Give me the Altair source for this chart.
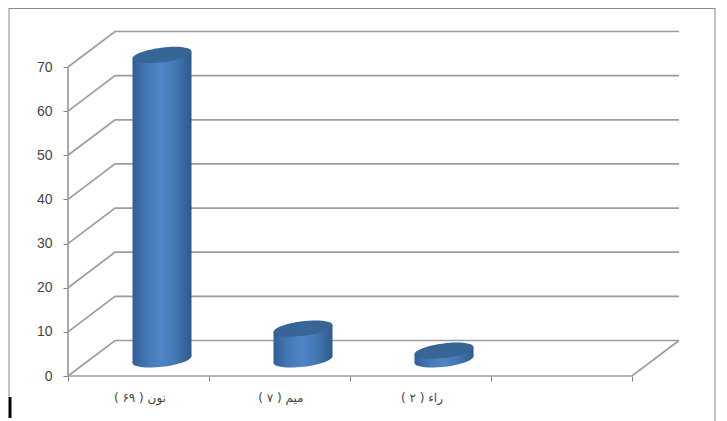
import altair as alt
import pandas as pd

categories = ["نون ( ۶۹ )", "میم ( ۷ )", "راء ( ۲ )"]
values = [69, 7, 2]
ticks = [0, 10, 20, 30, 40, 50, 60, 70]
cat_ticks = [0, 1, 2, 3, 4]

W, H = 611, 345
XMAX = W / 141
YMAX = H / 4.414
DX = 47 / 141       # depth offset in category units
DY = 35.5 / 4.414   # depth offset in value units
BASE = 16.5 / 4.414
HALF = 29.5 / 141
TILT = 3.5 / 4.414
GRID = "#9c9c9c"

x = alt.X("x:Q", scale=alt.Scale(domain=[0, XMAX], nice=False, zero=False), title=None,
          axis=alt.Axis(values=cat_ticks, labels=False, grid=False, domain=False, tickColor="#808080",
                        tickSize=5, tickWidth=1))
y = alt.Y("y:Q", scale=alt.Scale(domain=[0, YMAX], nice=False, zero=False), title=None,
          axis=alt.Axis(values=ticks, grid=False, domain=False, tickColor="#808080", tickSize=5, tickWidth=1,
                        labelFont="Liberation Sans", labelFontSize=14, labelColor="#444444", labelPadding=11))

# walls
rows = []
for t in ticks:
    rows += [dict(g=t, x=0, y=t), dict(g=t, x=DX, y=t + DY), dict(g=t, x=XMAX, y=t + DY)]
walls = alt.Chart(pd.DataFrame(rows)).mark_line(color=GRID, strokeWidth=1.7).encode(x=x, y=y, detail="g:N", order="x:Q")

frame_rows = [dict(x=0, y=70), dict(x=0, y=0), dict(x=4, y=0), dict(x=XMAX, y=DY)]
frame = alt.Chart(pd.DataFrame(frame_rows).assign(o=range(4))).mark_line(color=GRID, strokeWidth=1.7).encode(
    x=x, y=y, order="o:Q")

# cylinders
grad = alt.Gradient(gradient="linear", x1=0, x2=1, y1=0, y2=0, stops=[
    alt.GradientStop(color="#315f97", offset=0),
    alt.GradientStop(color="#477cba", offset=0.3),
    alt.GradientStop(color="#4e85c6", offset=0.5),
    alt.GradientStop(color="#4375b0", offset=0.75),
    alt.GradientStop(color="#2c5a8e", offset=1),
])
ELL = "M-1,0.12 A1,0.245,-7,1,1,1,-0.12 A1,0.245,-7,1,1,-1,0.12 Z"
body_rows, top_rows, bottom_rows = [], [], []
for i, v in enumerate(values):
    cx = i + 0.5 + 23.5 / 141
    body_rows += [dict(g=i, x=cx - HALF, y=BASE - TILT, y2=BASE + v - TILT),
                  dict(g=i, x=cx + HALF, y=BASE + TILT, y2=BASE + v + TILT)]
    top_rows.append(dict(x=cx, y=BASE + v))
    bottom_rows.append(dict(x=cx, y=BASE))
body = alt.Chart(pd.DataFrame(body_rows)).mark_area(fill=grad, opacity=1).encode(
    x=x, y=y, y2="y2:Q", detail="g:N")
bottoms = alt.Chart(pd.DataFrame(bottom_rows)).mark_point(
    shape=ELL, size=59 ** 2, filled=True, fill=grad, opacity=1, strokeWidth=0).encode(x=x, y=y)
tops = alt.Chart(pd.DataFrame(top_rows)).mark_point(
    shape=ELL, size=59 ** 2, filled=True, fill="#376596", opacity=1, strokeWidth=0).encode(x=x, y=y)

# labels
lab = pd.DataFrame({"x": [i + 0.5 + 0.01 for i in range(3)], "y": [-22 / 4.414] * 3, "t": categories})
labels = alt.Chart(lab).mark_text(font="DejaVu Sans", fontSize=12, color="#444444", align="center",
                                  baseline="middle").encode(x=x, y=y, text="t:N")

# outer frame, drawn in plot pixels
one = pd.DataFrame({"a": [0]})
border_l = alt.Chart(one).mark_rule(color="#888888", strokeWidth=1).encode(
    x=alt.value(-59), y=alt.value(-23), y2=alt.value(366))
border_r = alt.Chart(one).mark_rule(color="#888888", strokeWidth=1).encode(
    x=alt.value(647), y=alt.value(-23), y2=alt.value(390))
border_t = alt.Chart(one).mark_rule(color="#888888", strokeWidth=1).encode(
    y=alt.value(-22.5), x=alt.value(-59), x2=alt.value(647))
cursor = alt.Chart(one).mark_rule(color="#000000", strokeWidth=3).encode(
    x=alt.value(-58), y=alt.value(366), y2=alt.value(387))

chart = alt.layer(border_l, border_r, border_t, cursor, walls, frame, body, bottoms, tops, labels).properties(
    width=W, height=H,
    padding={"left": 60, "top": 23, "right": 40, "bottom": 45},
    autosize=alt.AutoSizeParams(type="none"),
    background="white",
).configure_view(stroke=None)

chart.save("out.html", embed_options={"renderer": "svg", "actions": False})
